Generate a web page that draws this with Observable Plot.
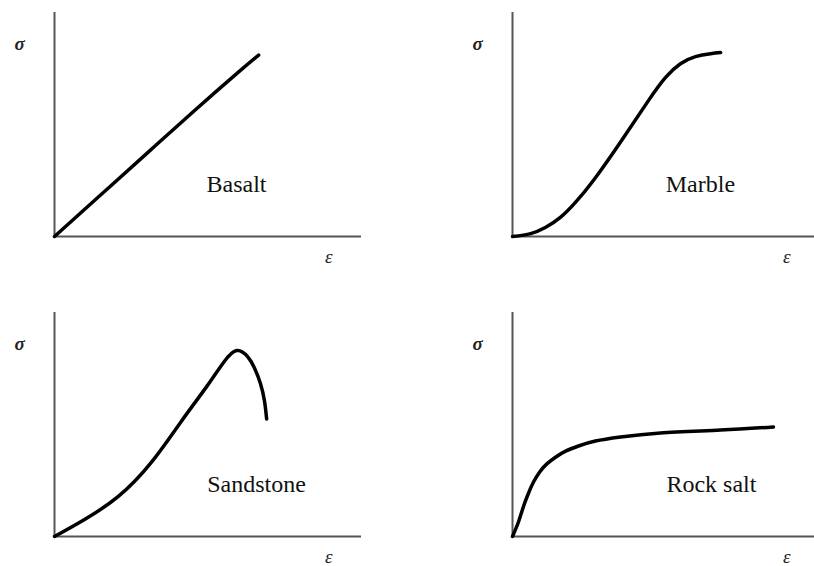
<!DOCTYPE html>
<html>
<head>
<meta charset="utf-8">
<script src="https://cdn.jsdelivr.net/npm/d3@7"></script>
<script src="https://cdn.jsdelivr.net/npm/@observablehq/plot@0.6"></script>
<style>
  body { margin: 0; background: #fff; }
  #chart svg text { font-family: "Liberation Serif", "DejaVu Serif", serif; }
</style>
</head>
<body>
<div id="chart"></div>
<script>
// Typical stress–strain curves of four rocks (arbitrary units, 0–100)
const rocks = ["Basalt", "Marble", "Sandstone", "Rock salt"];
const panelCol = ["left", "right", "left", "right"];
const panelRow = ["top", "top", "bottom", "bottom"];

const basaltStrain = [0, 15, 30, 45, 60, 66.5];
const basaltStress = [0, 18.5, 37, 55.5, 73.5, 81];

const marbleStrain = [0, 5.9, 10.7, 15.6, 20.5, 26.4, 35.2, 44, 49.8, 54.7, 59.6, 64.5, 67.8];
const marbleStress = [0, 1.3, 4.0, 8.5, 15.2, 25.1, 42.2, 60.1, 70.9, 77.1, 80.3, 81.6, 82.1];

const sandstoneStrain = [0, 9.8, 20.8, 31.6, 41.4, 49.5, 55.0, 59.3, 62.9, 65.1, 67.1, 68.4, 69.1];
const sandstoneStress = [0, 7.6, 17.9, 33.2, 51.6, 66.8, 77.6, 83.0, 80.3, 75.3, 68.2, 60.5, 52.5];

const rockSaltStrain = [0, 2.0, 3.6, 5.2, 6.8, 8.8, 11.1, 14.0, 17.3, 21.5, 27.0, 35.2, 48.2, 67.8, 85.0];
const rockSaltStress = [0, 6.7, 13.5, 19.3, 24.2, 28.7, 32.3, 35.4, 38.1, 40.4, 42.6, 44.4, 46.2, 47.5, 48.9];

// Where each rock's name sits inside its panel
const labelStrain = [59.3, 61.2, 65.8, 64.8];
const labelStress = [23.3, 23.3, 23.3, 23.3];

const strains = [basaltStrain, marbleStrain, sandstoneStrain, rockSaltStrain];
const stresses = [basaltStress, marbleStress, sandstoneStress, rockSaltStress];

const points = rocks.flatMap((rock, i) =>
  strains[i].map((e, j) => ({
    rock, col: panelCol[i], row: panelRow[i], strain: e, stress: stresses[i][j]
  }))
);

const labels = rocks.map((rock, i) => ({
  rock, col: panelCol[i], row: panelRow[i], strain: labelStrain[i], stress: labelStress[i]
}));

const serif = "Liberation Serif, DejaVu Serif, serif";

const chart = Plot.plot({
  width: 814,
  height: 566,
  marginLeft: 54,
  marginRight: -5,
  marginTop: 12,
  marginBottom: 30,
  style: { background: "#fff" },
  x: { domain: [0, 100], axis: null },
  y: { domain: [0, 100], axis: null },
  fx: { domain: ["left", "right"], axis: null, paddingInner: 0.33, paddingOuter: 0 },
  fy: { domain: ["top", "bottom"], axis: null, paddingInner: 0.255, paddingOuter: 0 },
  marks: [
    // axes of each panel
    Plot.ruleX([0], { stroke: "#555", strokeWidth: 2 }),
    Plot.ruleY([0], { stroke: "#555", strokeWidth: 2 }),
    // stress and strain symbols
    Plot.text(["σ"], {
      x: 0, y: 86, dx: -35, text: d => d,
      fontFamily: serif, fontStyle: "italic", fontWeight: "bold", fontSize: 19, fill: "#222"
    }),
    Plot.text(["ε"], {
      x: 89.3, y: 0, dy: 20, text: d => d,
      fontFamily: serif, fontStyle: "italic", fontSize: 19, fill: "#222"
    }),
    // curves
    Plot.line(points, {
      x: "strain", y: "stress", z: "rock", fx: "col", fy: "row",
      curve: "natural", stroke: "#000", strokeWidth: 3.5,
      strokeLinecap: "round", strokeLinejoin: "round"
    }),
    // rock names
    Plot.text(labels, {
      x: "strain", y: "stress", fx: "col", fy: "row", text: "rock",
      fontFamily: serif, fontSize: 24, fill: "#111"
    })
  ]
});

document.getElementById("chart").append(chart);
</script>
</body>
</html>
